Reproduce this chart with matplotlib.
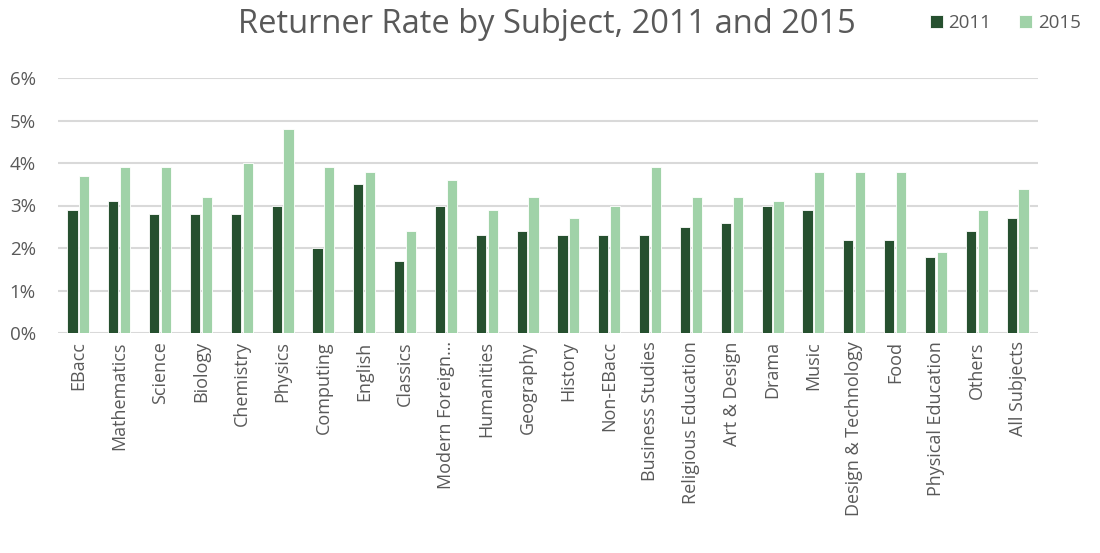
import numpy as np
import matplotlib
matplotlib.use("Agg")
import matplotlib.pyplot as plt

subjects = ["EBacc", "Mathematics", "Science", "Biology", "Chemistry", "Physics",
            "Computing", "English", "Classics", "Modern Foreign…", "Humanities",
            "Geography", "History", "Non-EBacc", "Business Studies",
            "Religious Education", "Art & Design", "Drama", "Music",
            "Design & Technology", "Food", "Physical Education", "Others",
            "All Subjects"]
rate_2011 = [2.9, 3.1, 2.8, 2.8, 2.8, 3.0, 2.0, 3.5, 1.7, 3.0, 2.3, 2.4, 2.3,
             2.3, 2.3, 2.5, 2.6, 3.0, 2.9, 2.2, 2.2, 1.8, 2.4, 2.7]
rate_2015 = [3.7, 3.9, 3.9, 3.2, 4.0, 4.8, 3.9, 3.8, 2.4, 3.6, 2.9, 3.2, 2.7,
             3.0, 3.9, 3.2, 3.2, 3.1, 3.8, 3.8, 3.8, 1.9, 2.9, 3.4]
years = ["2011", "2015"]

dark = "#26502F"
light = "#A0D2A8"
grey = "#595959"

plt.rcParams['font.family'] = ['Open Sans', 'DejaVu Sans']

fig = plt.figure(figsize=(11, 5.53), dpi=100)
ax = fig.add_axes([58 / 1100, 1 - 333 / 553, 980 / 1100, 255 / 553])

x = np.arange(len(subjects))
w = 0.25
ax.bar(x - w / 2 - 0.02, np.array(rate_2011) / 100, width=w, color=dark,
       edgecolor="white", linewidth=0.6, label=years[0], zorder=3)
ax.bar(x + w / 2 + 0.02, np.array(rate_2015) / 100, width=w, color=light,
       edgecolor="white", linewidth=0.6, label=years[1], zorder=3)

ax.set_xlim(-0.5, len(subjects) - 0.5)
ax.set_ylim(0, 0.06)
ax.set_yticks(np.arange(0, 0.061, 0.01))
ax.set_yticklabels([f"{i}%" for i in range(7)], color=grey, fontsize=13.5)
ax.yaxis.grid(True, color="#D9D9D9", linewidth=1.5, zorder=0)
ax.set_axisbelow(True)
for s in ax.spines.values():
    s.set_visible(False)
ax.tick_params(axis="y", length=0, pad=16)
ax.tick_params(axis="x", length=0, pad=6)
ax.set_xticks(x)
ax.set_xticklabels(subjects, rotation=90, color=grey, fontsize=13)

fig.text(0.497, 0.955, "Returner Rate by Subject, 2011 and 2015",
         ha="center", va="center", fontsize=23.5, color=grey)
fig.legend(loc="upper right", bbox_to_anchor=(0.998, 1.005), ncol=2,
           frameon=False, fontsize=13.5, handlelength=0.7, handleheight=0.7,
           columnspacing=1.5, handletextpad=0.3, labelcolor=grey)

fig.savefig("out.png", dpi=100)
